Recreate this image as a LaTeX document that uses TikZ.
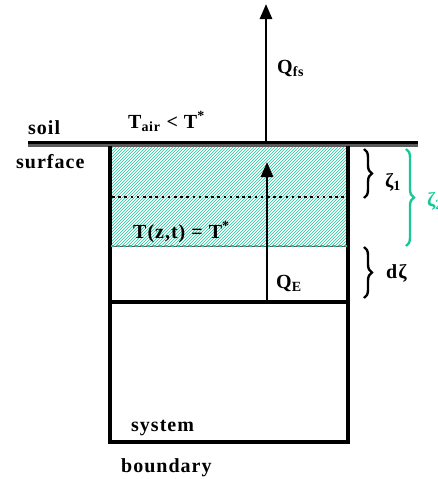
\documentclass[tikz,border=0pt]{standalone}
\usepackage{fontspec}
\setmainfont{Liberation Serif}[LetterSpace=5]
\usetikzlibrary{patterns,arrows.meta,decorations.pathreplacing}
\definecolor{teal1}{RGB}{25,200,150}
\definecolor{soilgray}{RGB}{90,90,90}
\tikzset{
  lbl/.style={anchor=base west,inner sep=0pt,font=\fontsize{20}{22}\selectfont\bfseries},
  wall/.style={line width=3.5pt},
  flux/.style={line width=2.8pt,-{Triangle[width=12pt,length=15pt]}},
  brc/.style={decorate,decoration={brace,amplitude=8pt},line width=2.4pt},
}
\begin{document}
\begin{tikzpicture}[x=1pt,y=-1pt]
\useasboundingbox (0,0) rectangle (437,479);
% hatched layer
\fill[pattern=north east lines,pattern color=teal1] (111,147) rectangle (347,246);
% soil surface line
\draw[line width=5pt,soilgray] (28,144) -- (418,144);
\draw[line width=2.5pt,black] (28,142.5) -- (418,142.5);
% box
\coordinate (tl) at (110,146);
\coordinate (tr) at (348,146);
\coordinate (bl) at (110,442);
\coordinate (br) at (348,442);
\draw[wall] (tl) -- (bl) -- (br) -- (tr);
\coordinate (ml) at (110,302);
\coordinate (mr) at (348,302);
\draw[wall] (ml) -- (mr);
% dotted lines
\coordinate (d1l) at (112,197);
\coordinate (d1r) at (347,197);
\draw[line width=2.6pt,dash pattern=on 2.6pt off 3.6pt] (d1l) -- (d1r);
\coordinate (d2l) at (111,246);
\coordinate (d2r) at (347,246);
\draw[line width=1pt,soilgray] (d2l) -- (d2r);
\draw[line width=2.8pt,teal1,dash pattern=on 2.6pt off 3.4pt] (d2l) -- (d2r);
% arrows
\coordinate (qe0) at (267,302);
\coordinate (qe1) at (267,162);
\draw[flux] (qe0) -- (qe1);
\coordinate (qf0) at (266,143);
\coordinate (qf1) at (266,4);
\draw[flux] (qf0) -- (qf1);
% braces
\coordinate (b1a) at (364,149);
\coordinate (b1b) at (364,198);
\draw[brc] (b1a) -- (b1b);
\coordinate (b2a) at (364,247);
\coordinate (b2b) at (364,298);
\draw[brc] (b2a) -- (b2b);
\coordinate (b3a) at (406,149);
\coordinate (b3b) at (406,246);
\draw[brc,teal1] (b3a) -- (b3b);
% labels
\node[lbl] (soil) at (28,134) {soil};
\node[lbl] (surf) at (16,168) {surface};
\node[lbl] (tair) at (128,128) {T\textsubscript{air} \textless{} T\textsuperscript{*}};
\node[lbl] (tzt) at (133,238) {T(z,t) = T\textsuperscript{*}};
\node[lbl] (qfs) at (277,73) {Q\textsubscript{fs}};
\node[lbl] (qE) at (276,288) {Q\textsubscript{E}};
\node[lbl] (z1) at (385,187) {ζ\textsubscript{1}};
\node[lbl] (dz) at (386,278) {dζ};
\node[lbl,text=teal1] (z2) at (427,206) {ζ\textsubscript{2}};
\node[lbl] (sys) at (131,431) {system};
\node[lbl] (bnd) at (121,472) {boundary};
\end{tikzpicture}
\end{document}
